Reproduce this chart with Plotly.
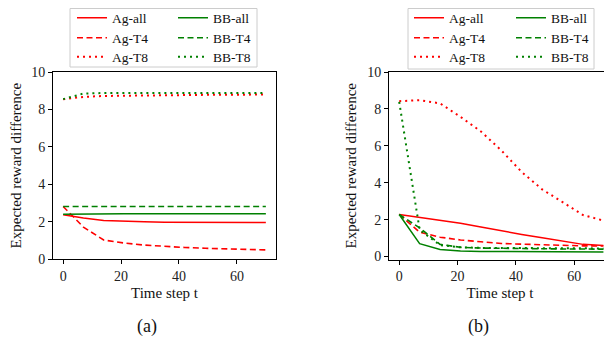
import plotly.graph_objects as go

# ---- data ----
t = [0, 7, 14, 21, 28, 35, 42, 49, 56, 63, 70]

# panel (a)
ag_all_a = [2.38, 2.2, 2.07, 2.02, 2.0, 1.98, 1.97, 1.97, 1.96, 1.96, 1.96]
ag_t4_a = [2.82, 1.72, 1.03, 0.87, 0.76, 0.68, 0.63, 0.59, 0.56, 0.53, 0.5]
ag_t8_a = [8.55, 8.67, 8.72, 8.74, 8.75, 8.76, 8.77, 8.78, 8.78, 8.79, 8.8]
bb_all_a = [2.4, 2.42, 2.43, 2.43, 2.43, 2.43, 2.43, 2.43, 2.43, 2.43, 2.43]
bb_t4_a = [2.82, 2.82, 2.82, 2.82, 2.82, 2.82, 2.82, 2.82, 2.82, 2.82, 2.82]
bb_t8_a = [8.55, 8.85, 8.88, 8.88, 8.88, 8.88, 8.88, 8.88, 8.88, 8.88, 8.88]

# panel (b)
ag_all_b = [2.28, 2.13, 1.97, 1.8, 1.6, 1.38, 1.2, 1.02, 0.84, 0.66, 0.6]
ag_t4_b = [2.28, 1.32, 1.05, 0.9, 0.8, 0.71, 0.67, 0.63, 0.6, 0.58, 0.57]
ag_t8_b = [8.42, 8.47, 8.3, 7.57, 6.78, 5.75, 4.58, 3.64, 2.95, 2.25, 1.95]
bb_all_b = [2.28, 0.7, 0.38, 0.3, 0.28, 0.27, 0.26, 0.25, 0.25, 0.25, 0.25]
bb_t4_b = [2.28, 1.55, 0.66, 0.5, 0.46, 0.44, 0.43, 0.42, 0.41, 0.41, 0.4]
bb_t8_b = [8.38, 1.45, 0.62, 0.5, 0.47, 0.46, 0.45, 0.45, 0.44, 0.44, 0.44]

x_ticks = [0, 20, 40, 60]
y_ticks = [0, 2, 4, 6, 8, 10]
x_title = "Time step t"
y_title = "Expected reward difference"
panel_labels = ["(a)", "(b)"]

# the page body has an 8px margin, so the figure is sized to fill the window
OFF = 8
W, H = 612 - OFF, 346 - OFF
FONT = "Liberation Serif"
DASH = "6px,3.5px"
DOT = "2px,4px"

# name, colour, dash, width, data (a), data (b), legend column, legend row
series = [
    ("Ag-all", "red", "solid", 1.5, ag_all_a, ag_all_b, 0, 0),
    ("Ag-T4", "red", DASH, 1.6, ag_t4_a, ag_t4_b, 0, 1),
    ("Ag-T8", "red", DOT, 2, ag_t8_a, ag_t8_b, 0, 2),
    ("BB-all", "green", "solid", 1.5, bb_all_a, bb_all_b, 1, 0),
    ("BB-T4", "green", DASH, 1.6, bb_t4_a, bb_t4_b, 1, 1),
    ("BB-T8", "green", DOT, 2, bb_t8_a, bb_t8_b, 1, 2),
]


def fx(p):
    # page pixel -> paper fraction
    return (p - OFF) / W


def fy(p):
    return 1 - (p - OFF) / H


def leg(xp, yp):
    return dict(x=fx(xp), y=fy(yp), xanchor="left", yanchor="middle",
                bgcolor="rgba(0,0,0,0)", borderwidth=0,
                font=dict(family=FONT, size=13.5, color="#111"),
                itemwidth=30, tracegroupgap=0, traceorder="normal")


legend_cols = [[72, 173], [409, 511]]   # per panel: Ag column, BB column
legend_rows = [18, 38, 57]

fig = go.Figure()
legends = {}
k = 0
for name, color, dash, lw, ya, yb, col, row in series:
    for p, (yy, xa, ya_ax) in enumerate([(ya, "x", "y"), (yb, "x2", "y2")]):
        k += 1
        lname = "legend" if k == 1 else "legend%d" % k
        legends[lname] = leg(legend_cols[p][col], legend_rows[row])
        fig.add_trace(go.Scatter(
            x=t, y=yy, name=name, mode="lines", showlegend=True,
            line=dict(color=color, dash=dash, width=lw),
            xaxis=xa, yaxis=ya_ax, legend=lname))

tickfont = dict(family=FONT, size=14, color="#222")
titlefont = dict(family=FONT, size=15, color="#111")
base = dict(showline=True, linecolor="black", linewidth=1, mirror=True,
            ticks="outside", ticklen=4, tickwidth=1, tickcolor="black",
            showgrid=False, zeroline=False, tickfont=tickfont, automargin=False)

fig.update_layout(
    width=W, height=H, showlegend=True,
    margin=dict(l=0, r=0, t=0, b=0, autoexpand=False),
    paper_bgcolor="white", plot_bgcolor="white",
    font=dict(family=FONT, size=14, color="#111"),
    xaxis=dict(base, domain=[fx(53), fx(276)], range=[-3.5, 73.5],
               tickvals=x_ticks, anchor="y",
               title=dict(text=x_title, font=titlefont, standoff=4)),
    yaxis=dict(base, domain=[fy(259.3), fy(72)], range=[0, 10],
               tickvals=y_ticks, anchor="x",
               title=dict(text=y_title, font=titlefont, standoff=6)),
    xaxis2=dict(base, domain=[fx(389), fx(611)], range=[-3.5, 72.6],
                tickvals=x_ticks, anchor="y2",
                title=dict(text=x_title, font=titlefont, standoff=4)),
    yaxis2=dict(base, domain=[fy(259.5), fy(72)], range=[-0.16, 10],
                tickvals=y_ticks, anchor="x2",
                title=dict(text=y_title, font=titlefont, standoff=6)),
    shapes=[
        dict(type="rect", xref="paper", yref="paper",
             x0=fx(70), x1=fx(257), y0=fy(67), y1=fy(8.5),
             line=dict(color="#cccccc", width=1), fillcolor="rgba(0,0,0,0)"),
        dict(type="rect", xref="paper", yref="paper",
             x0=fx(408), x1=fx(594), y0=fy(69), y1=fy(8.5),
             line=dict(color="#cccccc", width=1), fillcolor="rgba(0,0,0,0)"),
    ],
    annotations=[
        dict(text=panel_labels[0], x=fx(147), y=fy(326), xref="paper", yref="paper",
             xanchor="center", yanchor="middle", showarrow=False,
             font=dict(family=FONT, size=18, color="#111")),
        dict(text=panel_labels[1], x=fx(478), y=fy(326), xref="paper", yref="paper",
             xanchor="center", yanchor="middle", showarrow=False,
             font=dict(family=FONT, size=18, color="#111")),
    ],
)
fig.update_layout(**legends)

fig.write_html("out.html")
